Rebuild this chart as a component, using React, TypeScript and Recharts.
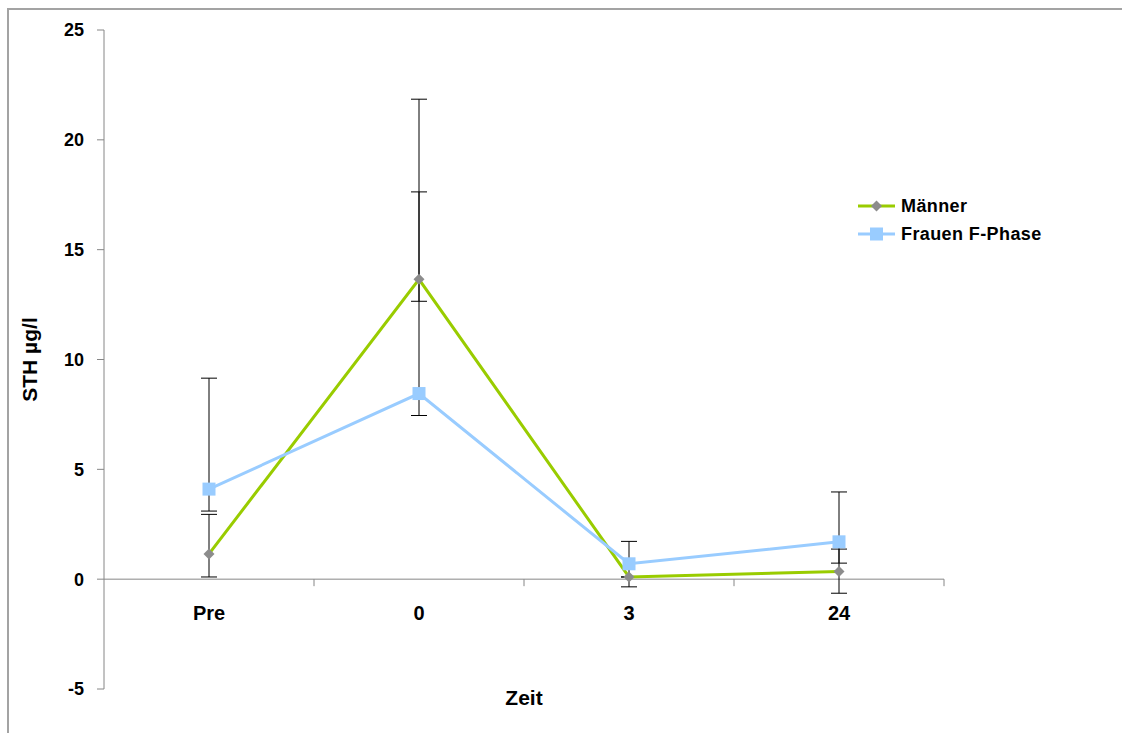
import React from 'react';
import { LineChart, Line, XAxis, YAxis, ErrorBar, ReferenceLine, ReferenceDot, Legend } from 'recharts';

// Zeitpunkte der Messung
const categories = ['Pre', '0', '3', '24'];

// Mittelwerte STH (µg/l)
const maenner = [1.15, 13.65, 0.1, 0.35];
const frauen = [4.1, 8.45, 0.7, 1.7];

// Fehlerbalken (nach unten / nach oben)
const maennerMinus = [1.05, 1.0, 0, 0.99];
const maennerPlus = [1.8, 8.2, 0, 1.02];
const frauenMinus = [1.0, 1.0, 1.05, 0.97];
const frauenPlus = [5.05, 9.18, 1.02, 2.27];

const yTicks = [-5, 0, 5, 10, 15, 20, 25];
const seriesOrder = ['maenner', 'frauen'];

const data = categories.map((zeit, i) => ({
  zeit,
  maenner: maenner[i],
  frauen: frauen[i],
  maennerErr: [maennerMinus[i], maennerPlus[i]],
  frauenErr: [frauenMinus[i], frauenPlus[i]],
}));

const FONT = '"Liberation Sans", Arial, Helvetica, sans-serif';
const GREEN = '#99cc00';
const BLUE = '#99ccff';
const MARKER_GRAY = '#8c8c8c';
const AXIS_GRAY = '#868686';

const CHART_W = 1113;
const CHART_H = 715;
const MARGIN = { top: 20, right: 178, bottom: 0, left: 0 };
const Y_AXIS_W = 95;
const X_AXIS_H = 36;
const PLOT_W = CHART_W - MARGIN.left - MARGIN.right - Y_AXIS_W;
const BAND = PLOT_W / categories.length;

const diamondPath = (cx: number, cy: number, r: number) =>
  `M${cx},${cy - r}L${cx + r},${cy}L${cx},${cy + r}L${cx - r},${cy}Z`;

const DiamondDot = (props: any) => {
  const { cx, cy, index } = props;
  if (cx == null || cy == null) return <g key={`d-${index}`} />;
  return <path key={`d-${index}`} d={diamondPath(cx, cy, 5.5)} fill={MARKER_GRAY} />;
};

const SquareDot = (props: any) => {
  const { cx, cy, index } = props;
  if (cx == null || cy == null) return <g key={`s-${index}`} />;
  return <rect key={`s-${index}`} x={cx - 6.5} y={cy - 6.5} width={13} height={13} fill={BLUE} />;
};

// Kategorie-Beschriftung und Teilstrich an der Nulllinie
const categoryMark = (label: string) => (props: any) => {
  const { cx, cy } = props;
  return (
    <g>
      <text
        x={cx}
        y={cy + 41}
        textAnchor="middle"
        fontFamily={FONT}
        fontWeight="bold"
        fontSize={20}
        fill="#000"
      >
        {label}
      </text>
      <line x1={cx + BAND / 2} x2={cx + BAND / 2} y1={cy} y2={cy + 7} stroke={AXIS_GRAY} strokeWidth={1} />
    </g>
  );
};

const renderLegend = (props: any) => {
  const payload = [...(props.payload || [])].sort(
    (a: any, b: any) => seriesOrder.indexOf(a.dataKey) - seriesOrder.indexOf(b.dataKey)
  );
  return (
    <div style={{ fontFamily: FONT, fontWeight: 'bold', fontSize: 18, color: '#000' }}>
      {payload.map((entry: any) => (
        <div key={entry.value} style={{ display: 'flex', alignItems: 'center', height: 28 }}>
          <svg width={43} height={28} style={{ display: 'block' }}>
            <line x1={0} x2={37} y1={14} y2={14} stroke={entry.color} strokeWidth={3} />
            {entry.dataKey === 'maenner' ? (
              <path d={diamondPath(18.5, 14, 5.5)} fill={MARKER_GRAY} />
            ) : (
              <rect x={12} y={7.5} width={13} height={13} fill={BLUE} />
            )}
          </svg>
          <span style={{ lineHeight: '28px', letterSpacing: 0.4, whiteSpace: 'nowrap' }}>{entry.value}</span>
        </div>
      ))}
    </div>
  );
};

export default function App() {
  return (
    <div
      style={{
        position: 'fixed',
        left: 7,
        top: 8,
        width: 1200,
        height: 800,
        borderTop: '2px solid #a3a3a3',
        borderLeft: '2px solid #a3a3a3',
        background: '#fff',
      }}
    >
      <LineChart width={CHART_W} height={CHART_H} data={data} margin={MARGIN}>
        <XAxis
          dataKey="zeit"
          type="category"
          height={X_AXIS_H}
          padding={{ left: BAND / 2, right: BAND / 2 }}
          axisLine={false}
          tickLine={false}
          tick={false}
          label={{
            content: (p: any) => {
              const vb = p.viewBox;
              return (
                <text
                  x={vb.x + vb.width / 2}
                  y={vb.y + 16}
                  textAnchor="middle"
                  fontFamily={FONT}
                  fontWeight="bold"
                  fontSize={21}
                  fill="#000"
                >
                  Zeit
                </text>
              );
            },
          }}
        />
        <YAxis
          type="number"
          domain={[-5, 25]}
          ticks={yTicks}
          interval={0}
          width={Y_AXIS_W}
          axisLine={{ stroke: AXIS_GRAY, strokeWidth: 1 }}
          tickLine={{ stroke: AXIS_GRAY, strokeWidth: 1 }}
          tickSize={7}
          tickMargin={13}
          tick={{ fontFamily: FONT, fontWeight: 'bold', fontSize: 18, fill: '#000' }}
          label={{
            content: (p: any) => {
              const vb = p.viewBox;
              const cy = vb.y + vb.height / 2;
              return (
                <text
                  x={28}
                  y={cy}
                  transform={`rotate(-90, 28, ${cy})`}
                  textAnchor="middle"
                  fontFamily={FONT}
                  fontWeight="bold"
                  fontSize={21}
                  fill="#000"
                >
                  STH µg/l
                </text>
              );
            },
          }}
        />
        <ReferenceLine y={0} stroke={AXIS_GRAY} strokeWidth={1} />
        {categories.map((c) => (
          <ReferenceDot key={c} x={c} y={0} r={0} shape={categoryMark(c)} ifOverflow="visible" />
        ))}
        <Legend
          layout="vertical"
          verticalAlign="middle"
          align="center"
          content={renderLegend}
          wrapperStyle={{ top: 182, left: 849, width: 260 }}
        />
        <Line
          type="linear"
          dataKey="maenner"
          name="Männer"
          stroke={GREEN}
          strokeWidth={3}
          dot={DiamondDot}
          activeDot={false}
          isAnimationActive={false}
        >
          <ErrorBar dataKey="maennerErr" direction="y" width={8} stroke="#000" strokeWidth={1} isAnimationActive={false} />
        </Line>
        <Line
          type="linear"
          dataKey="frauen"
          name="Frauen F-Phase"
          stroke={BLUE}
          strokeWidth={3}
          dot={SquareDot}
          activeDot={false}
          isAnimationActive={false}
        >
          <ErrorBar dataKey="frauenErr" direction="y" width={8} stroke="#000" strokeWidth={1} isAnimationActive={false} />
        </Line>
      </LineChart>
    </div>
  );
}
